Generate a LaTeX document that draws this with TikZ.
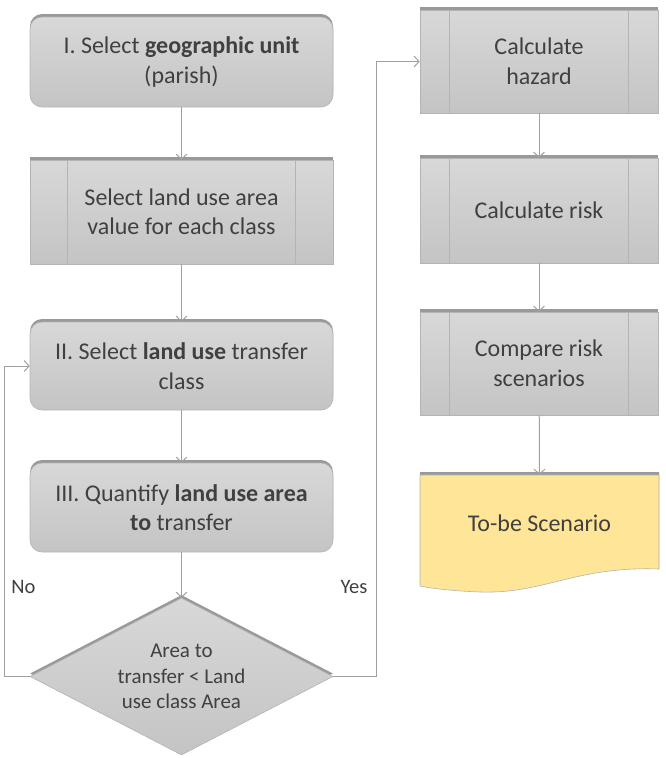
\documentclass[tikz,border=0pt]{standalone}
\usepackage{fontspec}
\setmainfont{Carlito}
\usetikzlibrary{shapes.geometric,arrows.meta,shadows}
\definecolor{txt}{HTML}{404040}
\definecolor{ln}{HTML}{A0A0A0}
\definecolor{docfill}{HTML}{FFE597}
\definecolor{edge}{HTML}{B4B4B4}
\definecolor{ftop}{HTML}{D8D8D8}
\definecolor{fbot}{HTML}{C4C4C4}
\tikzset{
  softshadow/.style={general shadow={shadow yshift=3pt, fill=black, opacity=0.4}},
  base/.style={text=txt, font=\fontsize{24}{29.5}\selectfont, align=center, inner sep=0pt,
    top color=ftop, bottom color=fbot, draw=edge, line width=0.6pt, softshadow},
  rbox/.style={base, rectangle, rounded corners=12pt, minimum width=303pt},
  lpbox/.style={base, rectangle, minimum width=303pt},
  rpbox/.style={base, rectangle, minimum width=238pt},
  innerline/.style={draw=edge, line width=0.8pt},
  dia/.style={shape=diamond, inner sep=0pt, top color=ftop, bottom color=fbot,
    draw=edge, line width=0.6pt, softshadow},
  diatext/.style={text=txt, font=\fontsize{21}{25.6}\selectfont, align=center, inner sep=0pt},
  lbl/.style={text=txt, font=\fontsize{20.5}{24}\selectfont, inner sep=0pt},
  docshape/.style={fill=docfill, draw=edge, line width=0.6pt, softshadow},
  conn/.style={draw=ln, line width=1pt, -{Straight Barb[length=5pt,width=11pt]}}
}
\begin{document}
\begin{tikzpicture}[x=1pt,y=-1pt]
\useasboundingbox (0,0) rectangle (666,758);
% left column
\node[rbox, minimum height=90pt] (b1) at (181.5,62) {I. Select \textbf{geographic unit}\\(parish)};
\node[lpbox, minimum height=104pt] (b2) at (181.5,212) {Select land use area\\value for each class};
\draw[innerline] ([xshift=38pt]b2.north west) -- ([xshift=38pt]b2.south west);
\draw[innerline] ([xshift=-38pt]b2.north east) -- ([xshift=-38pt]b2.south east);
\node[rbox, minimum height=88pt] (b3) at (181.5,366) {II. Select \textbf{land use} transfer\\class};
\node[rbox, minimum height=89pt] (b4) at (181.5,507.5) {III. Quantify \textbf{land use area}\\\textbf{to} transfer};
\node[dia, minimum width=303pt, minimum height=157pt] (dec) at (181.5,676.5) {};
\node[diatext] (dect) at (dec.center) {Area to\\transfer < Land\\use class Area};
\node[lbl] (no) at (23.5,587) {No};
\node[lbl] (yes) at (354,587) {Yes};
% right column
\node[rpbox, minimum height=103pt] (r1) at (539,61.5) {Calculate\\hazard};
\node[rpbox, minimum height=105pt] (r2) at (539,210.5) {Calculate risk};
\node[rpbox, minimum height=103pt] (r3) at (539,363.5) {Compare risk\\scenarios};
\foreach \n in {r1,r2,r3}{
  \draw[innerline] ([xshift=30pt]\n.north west) -- ([xshift=30pt]\n.south west);
  \draw[innerline] ([xshift=-30pt]\n.north east) -- ([xshift=-30pt]\n.south east);
}
\path[docshape] (420,475) -- (659,475) -- (659,569)
  .. controls (575,566) and (545,594) .. (480,592)
  .. controls (455,591) and (435,589) .. (420,586) -- cycle;
\node[text=txt, font=\fontsize{24}{29.5}\selectfont, inner sep=0pt,
  minimum width=239pt, minimum height=96pt] (doc) at (539.5,523) {To-be Scenario};
% connectors
\draw[conn] (b1) -- (b2);
\draw[conn] (b2) -- (b3);
\draw[conn] (b3) -- (b4);
\draw[conn] (b4) -- (dec.north);
\coordinate (lc) at (4,366);
\coordinate (rc) at (376,61.5);
\draw[conn] (dec.west) -| (lc) -- (b3.west);
\draw[conn] (dec.east) -| (rc) -- (r1.west);
\draw[conn] (r1) -- (r2);
\draw[conn] (r2) -- (r3);
\draw[conn] (r3) -- (doc.north);
\end{tikzpicture}
\end{document}
